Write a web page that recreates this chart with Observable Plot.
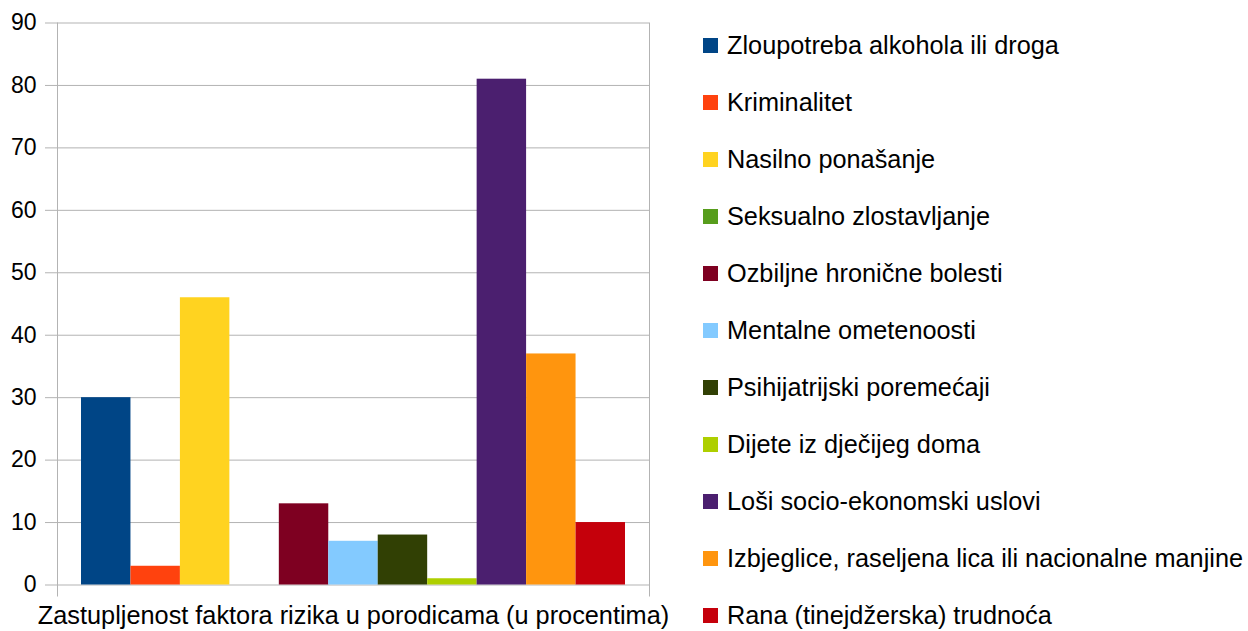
<!DOCTYPE html>
<html>
<head>
<meta charset="utf-8">
<script src="https://cdn.jsdelivr.net/npm/d3@7"></script>
<script src="https://cdn.jsdelivr.net/npm/@observablehq/plot@0.6"></script>
<style>
  html, body { margin: 0; padding: 0; background: #fff; }
  body { width: 1248px; height: 631px; position: relative; overflow: hidden; font-family: "Liberation Sans", Arial, sans-serif; }
  #chart { position: absolute; left: 0; top: 0; }
  #legend { position: absolute; left: 703px; top: 16.5px; }
  .item { height: 57.1px; display: flex; align-items: center; font-size: 25.3px; color: #000; white-space: nowrap; }
  .sw { width: 15px; height: 15px; margin-right: 9px; flex: none; }
</style>
</head>
<body>
<div id="chart"></div>
<div id="legend"></div>
<script>
const categories = [
  "Zloupotreba alkohola ili droga",
  "Kriminalitet",
  "Nasilno ponašanje",
  "Seksualno zlostavljanje",
  "Ozbiljne hronične bolesti",
  "Mentalne ometenoosti",
  "Psihijatrijski poremećaji",
  "Dijete iz dječijeg doma",
  "Loši socio-ekonomski uslovi",
  "Izbjeglice, raseljena lica ili nacionalne manjine",
  "Rana (tinejdžerska) trudnoća"
];
const values = [30, 3, 46, 0, 13, 7, 8, 1, 81, 37, 10];
const colors = ["#004586", "#ff420e", "#ffd320", "#579d1c", "#7e0021", "#83caff", "#314004", "#aecf00", "#4b1f6f", "#ff950e", "#c5000b"];
const yTicks = [0, 10, 20, 30, 40, 50, 60, 70, 80, 90];
const xLabel = "Zastupljenost faktora rizika u porodicama (u procentima)";

const data = categories.map((c, i) => ({name: c, value: values[i]}));

const chart = Plot.plot({
  width: 700,
  height: 631,
  marginLeft: 57,
  marginRight: 51,
  marginTop: 22.5,
  marginBottom: 46.5,
  style: {fontFamily: "Liberation Sans, Arial, sans-serif", color: "#000", background: "#fff", overflow: "visible"},
  x: {domain: categories, range: [81, 625], padding: 0, round: false, axis: null},
  y: {domain: [0, 90]},
  color: {domain: categories, range: colors},
  marks: [
    Plot.ruleY(yTicks, {stroke: "#b3b3b3", strokeWidth: 1}),
    Plot.frame({anchor: "left", stroke: "#b3b3b3", insetBottom: -11}),
    Plot.frame({anchor: "right", stroke: "#b3b3b3", insetBottom: -11}),
    Plot.barY(data, {x: "name", y: "value", fill: "name"}),
    Plot.axisY({ticks: yTicks, tickSize: 12, tickPadding: 9, stroke: "#b3b3b3", fill: "#000", fontSize: 23, label: null}),
    Plot.text([xLabel], {frameAnchor: "bottom", dy: 39, fontSize: 25.3, fill: "#000"})
  ]
});
document.getElementById("chart").appendChild(chart);

const legend = document.getElementById("legend");
categories.forEach((c, i) => {
  const it = document.createElement("div");
  it.className = "item";
  const sw = document.createElement("span");
  sw.className = "sw";
  sw.style.background = colors[i];
  const t = document.createElement("span");
  t.textContent = c;
  it.appendChild(sw);
  it.appendChild(t);
  legend.appendChild(it);
});
</script>
</body>
</html>
